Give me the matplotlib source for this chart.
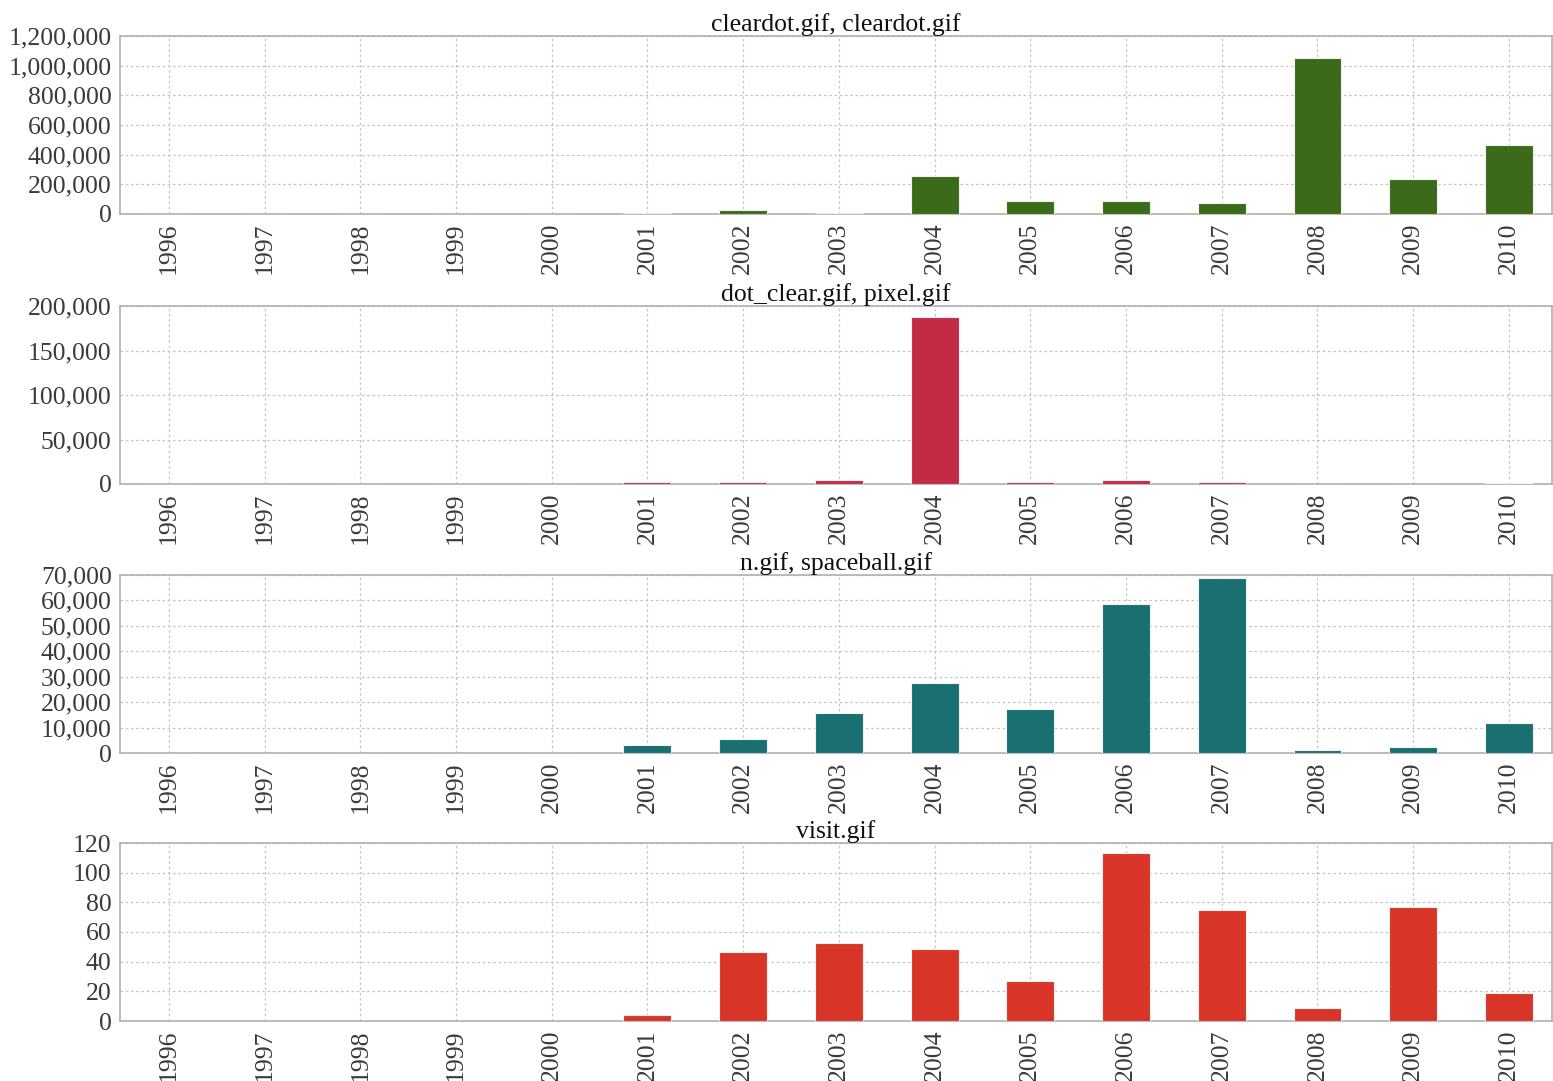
import matplotlib
matplotlib.use("Agg")
import matplotlib.pyplot as plt
from matplotlib.ticker import FuncFormatter

plt.rcParams['font.family'] = ['Liberation Serif', 'DejaVu Serif']

years = [str(y) for y in range(1996, 2011)]

titles = ["cleardot.gif, cleardot.gif", "dot_clear.gif, pixel.gif",
          "n.gif, spaceball.gif", "visit.gif"]

cleardot = [0, 0, 0, 0, 0, 5000, 25000, 5000, 255000, 88000, 90000, 75000, 1052000, 238000, 468000]
dot_clear = [0, 0, 0, 0, 0, 2500, 2500, 4500, 187500, 2500, 4500, 2500, 0, 0, 800]
n_gif = [0, 0, 0, 0, 0, 3100, 5500, 15700, 27500, 17300, 58600, 68800, 1200, 2400, 11800]
visit = [0, 0, 0, 0, 0, 4, 46.5, 52.5, 48.5, 27, 113, 75, 9, 77, 19]

series = [cleardot, dot_clear, n_gif, visit]
colors = ["#3a6a1a", "#c22a45", "#1a7070", "#d83427"]
ylims = [(0, 1200000), (0, 200000), (0, 70000), (0, 120)]
ysteps = [200000, 50000, 10000, 20]

W, H = 1553, 1081
fig = plt.figure(figsize=(W / 100, H / 100), dpi=100)
tops = [36, 306, 575, 843]
ph = 178
left, right = 120, 1552

fmt = FuncFormatter(lambda v, p: f"{int(round(v)):,}")

for i in range(4):
    ax = fig.add_axes([left / W, 1 - (tops[i] + ph) / H, (right - left) / W, ph / H])
    x = list(range(len(years)))
    ax.bar(x, series[i], width=0.5, color=colors[i], edgecolor="#f0f0f0", linewidth=0.8, zorder=3)
    ax.set_xlim(-0.51, len(years) - 0.55)
    ax.set_ylim(*ylims[i])
    lo, hi = ylims[i]
    ax.set_yticks(list(range(lo, hi + 1, ysteps[i])))
    ax.yaxis.set_major_formatter(fmt)
    ax.set_xticks(x)
    ax.set_xticklabels(years, rotation=90)
    ax.tick_params(length=0, labelsize=18.5, colors="#3a3a3a", pad=6)
    ax.grid(True, linestyle=(0, (2, 2.2)), color="#c4c4c4", linewidth=0.9, zorder=0)
    ax.set_axisbelow(True)
    for s in ax.spines.values():
        s.set_color("#b0b0b0")
        s.set_linewidth(1.2)
    ax.set_title(titles[i], fontsize=18.5, color="#111111", pad=2)

fig.savefig("out.png", dpi=100)
